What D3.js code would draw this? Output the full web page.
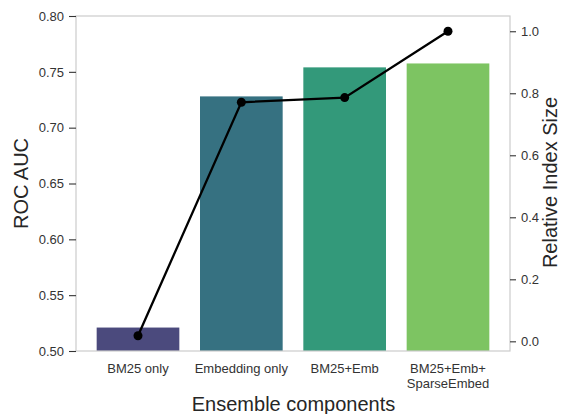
<!DOCTYPE html>
<html><head><meta charset="utf-8">
<script src="https://cdn.jsdelivr.net/npm/d3@7"></script>
<style>body{margin:0;background:#fff;} text{font-family:"Liberation Sans",Arial,sans-serif;}</style>
</head><body><svg id="c" width="564" height="414"></svg>
<script>
const categories = ["BM25 only", "Embedding only", "BM25+Emb", "BM25+Emb+\nSparseEmbed"];
const rocAuc = [0.521, 0.728, 0.754, 0.7575];
const indexSize = [0.018, 0.771, 0.786, 1.0];
const barColors = ["#4b4a7d", "#367181", "#33997a", "#7dc462"];
const leftTicks = [0.50, 0.55, 0.60, 0.65, 0.70, 0.75, 0.80];
const rightTicks = [0.0, 0.2, 0.4, 0.6, 0.8, 1.0];

const L = 76, R = 510, T = 16, B = 351;
const svg = d3.select("#c");
const x = d3.scaleLinear().domain([-0.6, 3.6]).range([L, R]);
const y = d3.scaleLinear().domain([0.5, 0.8]).range([B, T]);
const y2 = d3.scaleLinear().domain([-0.0312, 1.0492]).range([B, T]);

svg.selectAll("rect.bar").data(rocAuc).enter().append("rect")
  .attr("x", (d,i) => x(i - 0.4)).attr("width", x(0.8) - x(0))
  .attr("y", d => y(d)).attr("height", d => B - y(d))
  .attr("fill", (d,i) => barColors[i]);

// frame
svg.append("rect").attr("x", L).attr("y", T).attr("width", R-L).attr("height", B-T)
  .attr("fill", "none").attr("stroke", "#cccccc").attr("stroke-width", 1.2);

const gl = svg.append("g").attr("transform", `translate(${L},0)`)
  .call(d3.axisLeft(y).tickValues(leftTicks).tickFormat(d3.format(".2f")).tickSize(7).tickPadding(5));
const gr = svg.append("g").attr("transform", `translate(${R},0)`)
  .call(d3.axisRight(y2).tickValues(rightTicks).tickFormat(d3.format(".1f")).tickSize(6).tickPadding(5));
[gl, gr].forEach(g => {
  g.select(".domain").remove();
  g.selectAll(".tick line").attr("stroke", "#333").attr("stroke-width", 1.1);
  g.selectAll(".tick text").attr("fill", "#333").style("font-size", "13px").style("font-family", "Liberation Sans, Arial, sans-serif");
});

// category labels
categories.forEach((c, i) => {
  const lines = c.split("\n");
  const t = svg.append("text").attr("x", x(i)).attr("y", B + 22)
    .attr("text-anchor", "middle").attr("fill", "#333").style("font-size", "13px");
  lines.forEach((ln, j) => t.append("tspan").attr("x", x(i)).attr("dy", j === 0 ? 0 : 14.5).text(ln));
});

// line
const line = d3.line().x((d,i) => x(i)).y(d => y2(d));
svg.append("path").datum(indexSize).attr("d", line).attr("fill", "none")
  .attr("stroke", "#000").attr("stroke-width", 2.3);
svg.selectAll("circle.pt").data(indexSize).enter().append("circle")
  .attr("cx", (d,i) => x(i)).attr("cy", d => y2(d)).attr("r", 4.5).attr("fill", "#000");

// axis labels
svg.append("text").attr("x", (L+R)/2 + 0.5).attr("y", 411).attr("text-anchor", "middle")
  .attr("fill", "#262626").style("font-size", "20px").text("Ensemble components");
svg.append("text").attr("transform", `translate(27.5,183.5) rotate(-90)`).attr("text-anchor", "middle")
  .attr("fill", "#262626").style("font-size", "20px").text("ROC AUC");
svg.append("text").attr("transform", `translate(557,182.5) rotate(-90)`).attr("text-anchor", "middle")
  .attr("fill", "#262626").style("font-size", "20px").text("Relative Index Size");
</script></body></html>
